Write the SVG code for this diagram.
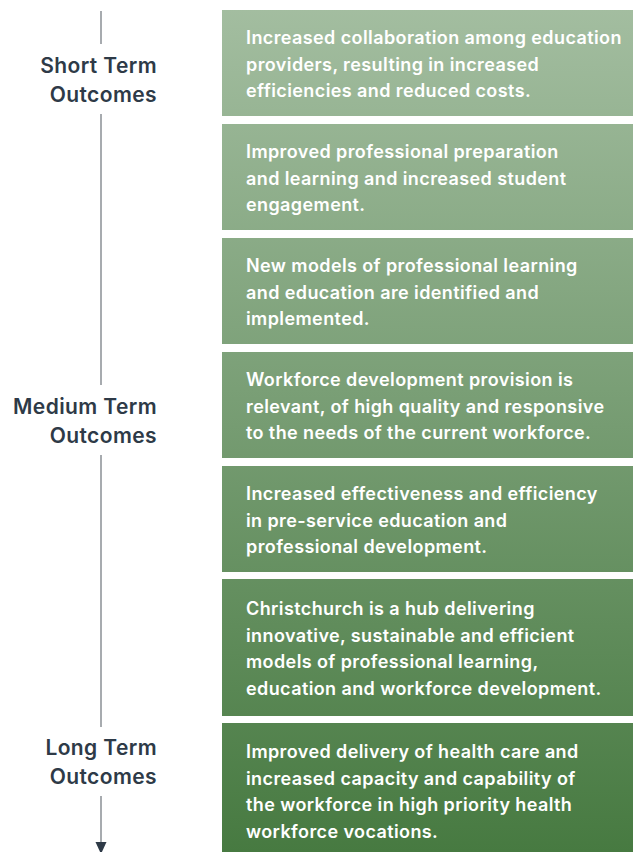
<svg xmlns="http://www.w3.org/2000/svg" width="633" height="852" viewBox="0 0 633 852">
<style>
.box{fill:url(#g)}
.bt{font-family:Inter,"Liberation Sans",sans-serif;font-weight:600;font-size:18px;letter-spacing:0.4px;fill:#ffffff}
.lb{font-family:Inter,"Liberation Sans",sans-serif;font-weight:600;font-size:21px;letter-spacing:0.4px;fill:#2e3a47;text-anchor:end}
.ln{stroke:#8a8f94;stroke-width:1.5;fill:none}
</style>
<defs>
<linearGradient id="g" gradientUnits="userSpaceOnUse" x1="0" y1="0" x2="0" y2="852">
<stop offset="0" stop-color="#a4bea1"/>
<stop offset="0.5" stop-color="#769c72"/>
<stop offset="1" stop-color="#477a41"/>
</linearGradient>
</defs>
<rect width="633" height="852" fill="#ffffff"/>
<g id="connectors">
<line class="ln" x1="101" y1="11" x2="101" y2="44"/>
<line class="ln" x1="101" y1="114" x2="101" y2="385"/>
<line class="ln" x1="101" y1="455" x2="101" y2="727"/>
<line class="ln" x1="101" y1="796" x2="101" y2="843"/>
<polygon points="95.5,842 106.5,842 101,854" fill="#2e3a47"/>
</g>
<g id="label-short">
<text class="lb" x="157" y="73">Short Term</text>
<text class="lb" x="157" y="102">Outcomes</text>
</g>
<g id="label-medium">
<text class="lb" x="157" y="414">Medium Term</text>
<text class="lb" x="157" y="443">Outcomes</text>
</g>
<g id="label-long">
<text class="lb" x="157" y="755">Long Term</text>
<text class="lb" x="157" y="784">Outcomes</text>
</g>
<g id="box1">
<rect class="box" x="222" y="10" width="411" height="106"/>
<text class="bt" x="246" y="44">Increased collaboration among education</text>
<text class="bt" x="246" y="70.5">providers, resulting in increased</text>
<text class="bt" x="246" y="97">efficiencies and reduced costs.</text>
</g>
<g id="box2">
<rect class="box" x="222" y="124" width="411" height="106"/>
<text class="bt" x="246" y="158">Improved professional preparation</text>
<text class="bt" x="246" y="184.5">and learning and increased student</text>
<text class="bt" x="246" y="211">engagement.</text>
</g>
<g id="box3">
<rect class="box" x="222" y="238" width="411" height="106"/>
<text class="bt" x="246" y="272">New models of professional learning</text>
<text class="bt" x="246" y="298.5">and education are identified and</text>
<text class="bt" x="246" y="325">implemented.</text>
</g>
<g id="box4">
<rect class="box" x="222" y="352" width="411" height="106"/>
<text class="bt" x="246" y="386">Workforce development provision is</text>
<text class="bt" x="246" y="412.5">relevant, of high quality and responsive</text>
<text class="bt" x="246" y="439">to the needs of the current workforce.</text>
</g>
<g id="box5">
<rect class="box" x="222" y="466" width="411" height="106"/>
<text class="bt" x="246" y="500">Increased effectiveness and efficiency</text>
<text class="bt" x="246" y="526.5">in pre-service education and</text>
<text class="bt" x="246" y="553">professional development.</text>
</g>
<g id="box6">
<rect class="box" x="222" y="579" width="411" height="137"/>
<text class="bt" x="246" y="615">Christchurch is a hub delivering</text>
<text class="bt" x="246" y="641.5">innovative, sustainable and efficient</text>
<text class="bt" x="246" y="668">models of professional learning,</text>
<text class="bt" x="246" y="694.5">education and workforce development.</text>
</g>
<g id="box7">
<rect class="box" x="222" y="723" width="411" height="135"/>
<text class="bt" x="246" y="758">Improved delivery of health care and</text>
<text class="bt" x="246" y="784.5">increased capacity and capability of</text>
<text class="bt" x="246" y="811">the workforce in high priority health</text>
<text class="bt" x="246" y="837.5">workforce vocations.</text>
</g>
</svg>
